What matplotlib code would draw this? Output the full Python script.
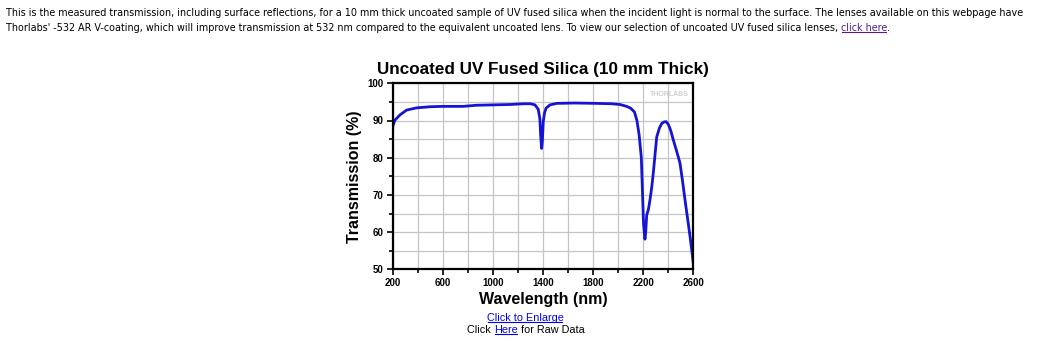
import numpy as np
import matplotlib
matplotlib.use('Agg')
import matplotlib.pyplot as plt
from matplotlib.ticker import FixedLocator, MultipleLocator

# --- data (wavelength nm, transmission %) ---
wavelength = [200, 202, 218, 258, 311, 391, 498, 600, 762, 870, 1000, 1137, 1243,
              1300, 1336, 1362, 1375, 1381, 1389, 1395, 1402, 1412, 1424, 1456, 1509,
              1650, 1828, 1950, 2014, 2068, 2100, 2130, 2150, 2168, 2185, 2195, 2203,
              2214, 2220, 2228, 2241, 2254, 2268, 2281, 2295, 2308, 2330, 2348, 2365,
              2382, 2400, 2420, 2440, 2465, 2494, 2515, 2534, 2555, 2574, 2590, 2600]
transmission = [87.8, 88.6, 90.1, 91.5, 92.8, 93.4, 93.7, 93.8, 93.8, 94.1, 94.2, 94.3, 94.5,
                94.5, 94.2, 93.0, 90.5, 86.1, 82.5, 84.5, 89.7, 92.0, 93.3, 94.2, 94.6,
                94.7, 94.6, 94.5, 94.3, 93.8, 93.3, 92.3, 90.0, 86.0, 80.0, 70.0, 62.0,
                58.1, 60.0, 64.6, 66.0, 68.6, 72.0, 76.0, 81.0, 85.6, 88.0, 89.2, 89.6,
                89.7, 89.0, 87.3, 84.8, 82.0, 78.5, 73.5, 68.6, 63.5, 58.8, 54.5, 51.6]

x_major = [200, 600, 1000, 1400, 1800, 2200, 2600]
x_minor = [400, 800, 1200, 1600, 2000, 2400]

title = "Uncoated UV Fused Silica (10 mm Thick)"
xlabel = "Wavelength (nm)"
ylabel = "Transmission (%)"
intro_1 = ("This is the measured transmission, including surface reflections, for a 10 mm thick uncoated "
           "sample of UV fused silica when the incident light is normal to the surface. The lenses "
           "available on this webpage have")
intro_2 = ("Thorlabs' -532 AR V-coating, which will improve transmission at 532 nm compared to the "
           "equivalent uncoated lens. To view our selection of uncoated UV fused silica lenses, ")
link_txt = "click here"

W, H = 1054, 341
fig = plt.figure(figsize=(W / 100, H / 100), dpi=100)
fig.patch.set_facecolor('white')

ax = fig.add_axes([392.7 / W, 1 - 269.3 / H, 300.6 / W, 186.0 / H])
ax.plot(wavelength, transmission, color='#1414d2', lw=2.0, solid_joinstyle='round')
ax.set_xlim(200, 2600)
ax.set_ylim(50, 100)
ax.xaxis.set_major_locator(FixedLocator(x_major))
ax.xaxis.set_minor_locator(FixedLocator(x_minor))
ax.yaxis.set_major_locator(MultipleLocator(10))
ax.yaxis.set_minor_locator(MultipleLocator(5))
ax.grid(which='both', color='#c4c4c4', lw=0.9)
ax.set_axisbelow(True)
for s in ax.spines.values():
    s.set_linewidth(1.6)
    s.set_color('black')
ax.tick_params(which='major', length=4, width=1.2, labelsize=7, pad=2.5)
ax.tick_params(which='minor', length=3, width=1.2)
for lab in ax.get_xticklabels() + ax.get_yticklabels():
    lab.set_fontweight('bold')
    lab.set_family('Liberation Sans')

ax.set_title(title, fontsize=12.3, fontweight='bold', family='Liberation Sans', pad=7)
ax.set_xlabel(xlabel, fontsize=11.5, fontweight='bold', family='Liberation Sans', labelpad=3)
ax.set_ylabel(ylabel, fontsize=11.5, fontweight='bold', family='Liberation Sans', labelpad=4)
ax.text(0.985, 0.96, "THORLABS", transform=ax.transAxes, ha='right', va='top',
        fontsize=5, fontweight='bold', color='#d0d0d0', family='Liberation Sans')

# --- page text around the chart ---
fs = 6.9
fig.text(6 / W, 1 - 13 / H, intro_1, fontsize=fs, family='DejaVu Sans', va='center', ha='left')
t2 = fig.text(6 / W, 1 - 28 / H, intro_2, fontsize=fs, family='DejaVu Sans', va='center', ha='left')
fig.canvas.draw()
r = fig.canvas.get_renderer()
inv = fig.transFigure.inverted()


def underline(txt, color):
    bb = txt.get_window_extent(renderer=r)
    (x0, y0), (x1, _) = inv.transform([(bb.x0 + 1, bb.y0), (bb.x1 - 1, bb.y1)])
    fig.add_artist(plt.Line2D([x0, x1], [y0 + 1.5 / H, y0 + 1.5 / H], color=color, lw=0.8,
                              transform=fig.transFigure))
    return x1 + 1 / W


bb = t2.get_window_extent(renderer=r)
xe = inv.transform((bb.x1, bb.y0))[0]
lk = fig.text(xe, 1 - 28 / H, link_txt, fontsize=fs, family='DejaVu Sans', va='center',
              ha='left', color='#551a8b')
fig.canvas.draw()
x_end = underline(lk, '#551a8b')
fig.text(x_end, 1 - 28 / H, ".", fontsize=fs, family='DejaVu Sans', va='center', ha='left')

lfs = 7.8
e = fig.text(525 / W, 1 - 318 / H, "Click to Enlarge", fontsize=lfs, family='Liberation Sans',
             va='center', ha='center', color='#0000ee')
c1 = fig.text(467 / W, 1 - 330 / H, "Click ", fontsize=lfs, family='Liberation Sans',
              va='center', ha='left', color='black')
fig.canvas.draw()
underline(e, '#0000ee')
bb = c1.get_window_extent(renderer=r)
xe = inv.transform((bb.x1, bb.y0))[0]
hr = fig.text(xe, 1 - 330 / H, "Here", fontsize=lfs, family='Liberation Sans',
              va='center', ha='left', color='#0000ee')
fig.canvas.draw()
xe = underline(hr, '#0000ee')
fig.text(xe, 1 - 330 / H, " for Raw Data", fontsize=lfs, family='Liberation Sans',
         va='center', ha='left', color='black')

fig.savefig('out.png', dpi=100, facecolor='white')
